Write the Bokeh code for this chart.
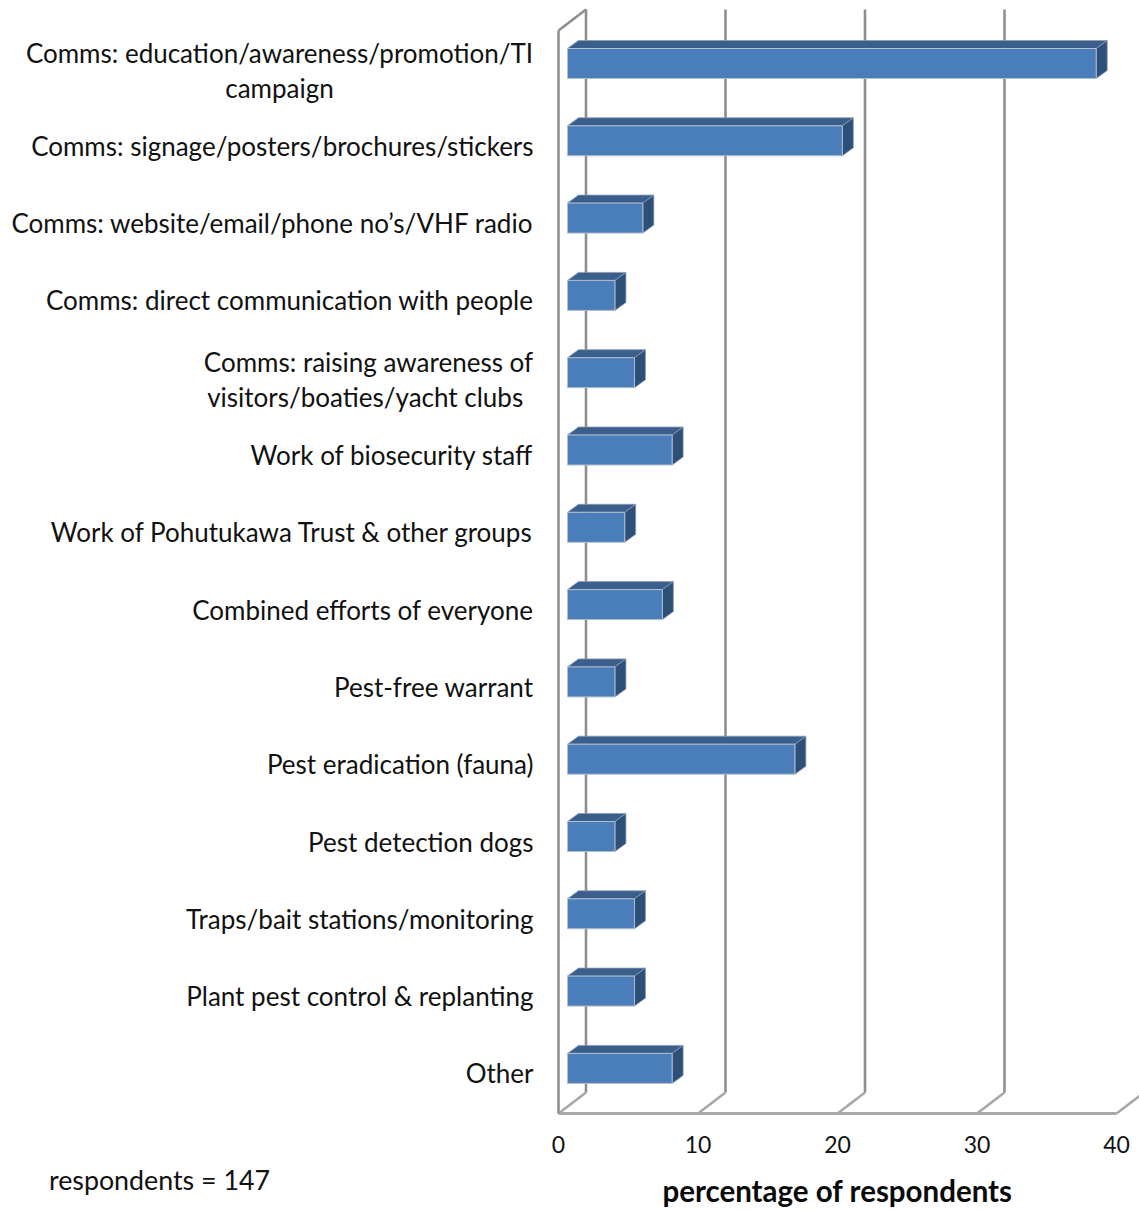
from bokeh.embed import file_html
from bokeh.models import Range1d
from bokeh.plotting import figure
from bokeh.resources import INLINE

# Responses, in display order (percent of 147 respondents)
categories = [
    "Comms: education/awareness/promotion/TI\ncampaign",
    "Comms: signage/posters/brochures/stickers",
    "Comms: website/email/phone no\u2019s/VHF radio",
    "Comms: direct communication with people",
    "Comms: raising awareness of\nvisitors/boaties/yacht clubs ",
    "Work of biosecurity staff",
    "Work of Pohutukawa Trust & other groups",
    "Combined efforts of everyone",
    "Pest-free warrant",
    "Pest eradication (fauna)",
    "Pest detection dogs",
    "Traps/bait stations/monitoring",
    "Plant pest control & replanting",
    "Other",
]
percentages = [37.9, 19.7, 5.4, 3.4, 4.8, 7.5, 4.1, 6.8, 3.4, 16.3, 3.4, 4.8, 4.8, 7.5]
tick_values = [0, 10, 20, 30, 40]

FONT = "Lato"
FONT_SIZE = "26px"
INK = "#111111"

PX_PER_UNIT = 13.95
PX_PER_ROW = 77.3
ORIGIN_PX = 558
FIRST_ROW_PX = 63
FLOOR_PX = 1113
WIDTH, HEIGHT = 1139, 1210


def dx(px):
    return px / PX_PER_UNIT


def dy(px):
    return px / PX_PER_ROW


def row_at(px):
    return dy(px - FIRST_ROW_PX)


# The plot area fills the page, so axis text can be laid out in data space
p = figure(
    width=WIDTH, height=HEIGHT, output_backend="svg", toolbar_location=None,
    x_range=Range1d(dx(-ORIGIN_PX), dx(WIDTH - ORIGIN_PX)),
    y_range=Range1d(row_at(HEIGHT), row_at(0)),
    min_border=0, outline_line_color=None, background_fill_color="white",
)
p.grid.visible = False
p.axis.visible = False


def put_text(x, y, text, align="center", size=FONT_SIZE, style="normal", color=INK):
    p.text(x=[x], y=[y], text=[text], text_align=align, text_baseline="middle",
           text_font={"value": FONT}, text_font_size={"value": size},
           text_font_style=style, text_line_height=1.09, text_color=color)


floor_y = row_at(FLOOR_PX)
wall_depth_x = dx(27.5)
wall_depth_y = dy(21)
wall_height = dy(FLOOR_PX - 30)
GRID = "#8e8e8e"
FLOOR = "#a8a8a8"
GRID_WIDTH = 2.6

# Back-wall gridlines and the diagonals running across the floor
for t in tick_values:
    if t < tick_values[-1]:
        p.line([t + wall_depth_x] * 2,
               [floor_y - wall_depth_y, floor_y - wall_depth_y - wall_height],
               line_color=GRID, line_width=GRID_WIDTH)
    p.line([t, t + wall_depth_x], [floor_y, floor_y - wall_depth_y],
           line_color=FLOOR, line_width=GRID_WIDTH)

# Front edge of the floor
p.line([tick_values[0], tick_values[-1]], [floor_y, floor_y], line_color=FLOOR, line_width=3)

# Side wall: front upright and the top diagonal
p.line([0, 0], [floor_y, floor_y - wall_height], line_color=GRID, line_width=GRID_WIDTH)
p.line([0, wall_depth_x], [floor_y - wall_height, floor_y - wall_depth_y - wall_height],
       line_color=GRID, line_width=GRID_WIDTH)

# Bars with a lit top and a shaded end to give the 3-D look
bar_start = dx(9)
half = dy(15)
bar_dx = dx(11)
bar_dy = dy(8)
rows = list(range(len(categories)))
ends = [bar_start + v for v in percentages]

p.patches(
    xs=[[bar_start, e, e + bar_dx, bar_start + bar_dx] for e in ends],
    ys=[[r - half, r - half, r - half - bar_dy, r - half - bar_dy] for r in rows],
    fill_color="#3a5f8c", line_color="#8a9bb2", line_width=0.8,
)
p.patches(
    xs=[[e, e + bar_dx, e + bar_dx, e] for e in ends],
    ys=[[r - half, r - half - bar_dy, r + half - bar_dy, r + half] for r in rows],
    fill_color="#2d5079", line_color="#8a9bb2", line_width=0.8,
)
p.quad(left=bar_start, right=ends,
       top=[r - half for r in rows], bottom=[r + half for r in rows],
       fill_color="#4a7ebb", line_color="#b4bfcc", line_width=1)

# Category labels: single lines end at the axis gutter, wrapped ones are centred
LABEL_RIGHT = dx(533 - ORIGIN_PX)
WRAP_CENTRE = {0: dx(279 - ORIGIN_PX), 4: dx(368 - ORIGIN_PX)}
for r, name in zip(rows, categories):
    if "\n" in name:
        put_text(WRAP_CENTRE[r], r + dy(7), name)
    else:
        put_text(LABEL_RIGHT, r + dy(5), name, align="right")

# Value axis labels, title and the sample-size note
for t in tick_values:
    put_text(t, row_at(1144), str(t), size="23px")
put_text(dx(837 - ORIGIN_PX), row_at(1190), "percentage of respondents",
         size="29.5px", style="bold", color="#0a0a0a")
put_text(dx(159 - ORIGIN_PX), row_at(1179), "respondents = 147", size="26.8px")

open("out.html", "w").write(file_html(p, INLINE))
